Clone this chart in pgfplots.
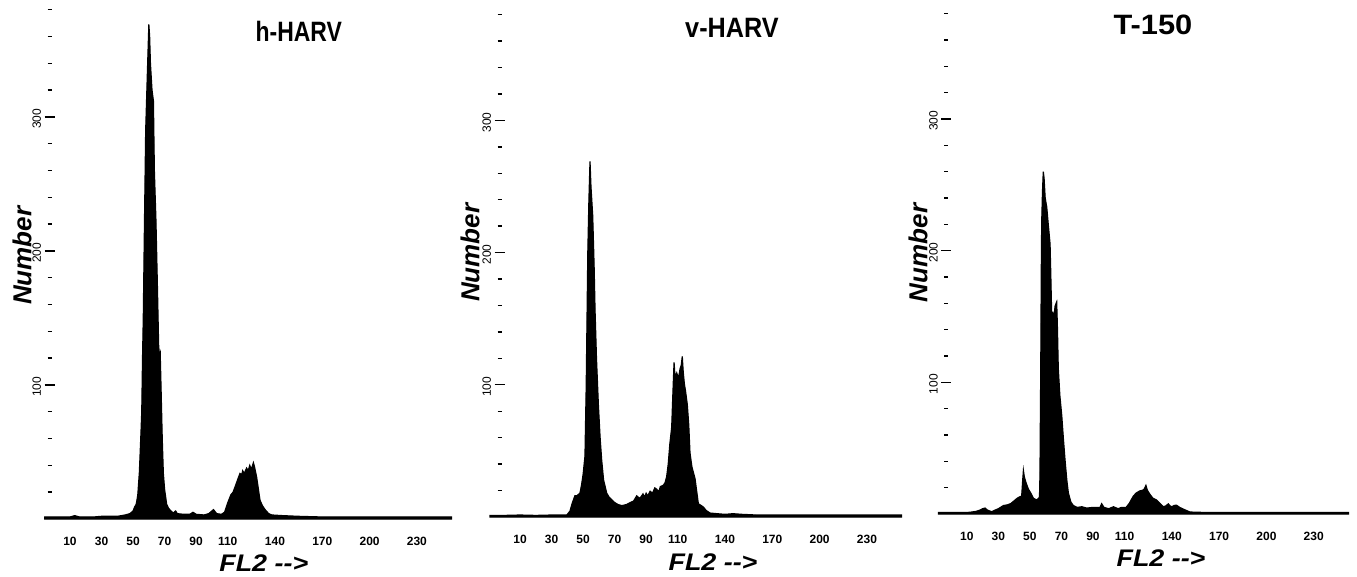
\documentclass[border=0pt]{standalone}
\usepackage{fontspec}
\setmainfont{Liberation Sans}
\usepackage{graphicx}
\usepackage{pgfplots}
\pgfplotsset{compat=1.18}

% DNA histograms (counts per FL2 channel)
\pgfplotstableread{
x y
-6 1.5
0 1.5
10 1.5
13 2.5
16 1.5
25 1.5
30 2
40 2
45 3
48 4
50 6
51 9
52 11
53 18
54 35
55 64
55.5 80
56 120
56.5 152
57 200
58 290
59 330
60 369
60.5 360
61 340
62 320
62.9 312
63.5 260
64.5 223
65.5 170
66.2 130
66.7 122
67.2 124
67.7 100
68.5 60
69.2 34
70 22
71.3 11
72.5 8
74 6
75.5 4.5
77 6
78 4
82 3.5
86 3.5
88 5
90 3.5
95 3
98 4
101 7
103 4
106 3.5
108 5
110 12
112 18
113.4 20
115 25
116.5 30
117.8 34
118.9 33
119.5 36
120.5 34
122 38
123 36
124 40
125 37
126.3 42
127 39
128.4 31
129.5 22
130.5 14
132 10
133.7 7
136 4
138 3
145 2.5
155 2
170 1.5
200 1.5
230 1.5
252 1.5
}\hharv

\pgfplotstableread{
x y
-9 1.2
0 1.2
10 1.5
20 1.2
30 1.5
35 1.5
39.7 1.5
41.7 4.5
43 10
44.8 16
46 16
47 17
48 18
49 24
50 32
51.2 46
52 100
53 200
53.7 240
54.4 269
55 250
56.1 228
57 190
57.6 156
58.5 120
59.7 85
60.8 60
61.8 43
63 28
65 18
66.5 15
68.2 13
70 11
72 9.5
74.5 8.6
76 9
77.7 9.5
80 11
82 12
84 16
86 14
88 17.5
89 15
90 18
91 16
92.5 19.5
94 18
95.5 22
96.7 21
98 19
99 23
100.9 24
102 26
103 30.5
104 40
105 55
106.2 68
107 95
107.7 117
108.3 106
109.4 109
110.5 105
111.5 112
112.3 115
112.9 121.5
113.5 110
114.2 101
115 95
116.1 85
117 70
117.8 48.5
119 38
121 29
122 20
123.1 10
124.5 9
126.3 7.5
128 5
130.5 3
135 2.5
140 2
145 2.5
151 2
160 1.5
252 1.5
}\vharv

\pgfplotstableread{
x y
-8 1.2
0 1.2
10 1.2
12 1.3
16 2
18.4 3
20 4
21.6 4.5
23 3
25.8 1.7
28 3
30 4
33.2 6.4
36 7
38 8
40.6 10.6
42 12
43.5 13
44.8 13.6
45.4 25
45.9 33
46.5 28
47.5 24
49 19
50.5 16
52.2 12
54.3 10.6
55.6 12
56.1 13
56.4 30
56.7 80
56.9 111
57.2 180
57.5 222
58 245
58.5 260
59 255
59.7 240
60.7 233
61.5 222
62.8 205
63.3 180
63.8 152
64.5 153
65.3 150
66 158
67 161
67.5 140
68 111
69 90
70.2 75
71.2 58
72.3 41
73.4 26
74.4 16
76 9
77.6 6.4
80 5
83 5.5
86 4.5
90 5
94.5 5
95.5 7.8
97 5
100 4
103 5.5
106 4
108 5
111 5
113 8
115.6 13.6
117.5 16
119.8 17.6
121.5 18
122.5 19
123.6 21.7
124.5 18
126.2 14.8
128 12
130.4 10.6
132.5 8
134.6 5.6
136 6
137.8 7.7
139 6
140 5.5
141.5 6.5
143 6.7
145 5
147.3 3.7
151.5 1.5
160 1.2
252 1.2
}\tonefifty

\pgfplotsset{
  flowhist/.style={
    scale only axis, width=402.1pt,
    xmin=-3, xmax=252, ymin=0, ymax=385,
    clip=false, anchor=south west,
    axis line style={draw=none},
    xtick={10,30,50,70,90,110,140,170,200,230},
    xticklabels={10,30,50,70,90,110,140,170,200,230},
    xtick style={draw=none},
    xtick pos=left, ytick pos=left,
    xticklabel style={font=\bfseries\fontsize{12}{12}\selectfont, yshift=-10pt},
    ytick={100,200,300}, yticklabels={100,200,300},
    minor ytick={20,40,60,80,120,140,160,180,220,240,260,280,320,340,360,380},
    tick align=center,
    major tick length=10pt, minor tick length=4pt,
    ytick style={black, line width=1.4pt},
    yticklabel style={rotate=90, anchor=south, font=\fontsize{12}{12}\selectfont, xshift=-2pt},
    ylabel={Number},
    ylabel style={anchor=center, font=\bfseries\itshape\fontsize{26}{26}\selectfont},
    xlabel={\scalebox{1.12}[1]{FL2 -{}->}},
    xlabel style={anchor=center, font=\bfseries\itshape\fontsize{24}{24}\selectfont},
    title style={anchor=center, font=\bfseries\fontsize{28}{28}\selectfont},
  },
  hist/.style={black, fill=black, line width=1.2pt},
}

\begin{document}
\begin{tikzpicture}
\useasboundingbox (0pt,0pt) rectangle (1357pt,576pt);

\begin{axis}[flowhist, at={(49.5pt,57pt)}, height=516pt,
  title={\scalebox{0.82}[1]{h-HARV}},
  title style={at={(axis description cs:0.62,0.933)}},
  ylabel style={at={(axis description cs:-0.068,0.51)}},
  xlabel style={at={(axis description cs:0.533,-0.085)}}]
\addplot[hist] table {\hharv} \closedcycle;
\end{axis}

\begin{axis}[flowhist, at={(499.5pt,59pt)}, height=509pt,
  title={\scalebox{0.9}[1]{v-HARV}},
  title style={at={(axis description cs:0.578,0.949)}},
  ylabel style={at={(axis description cs:-0.073,0.519)}},
  xlabel style={at={(axis description cs:0.531,-0.089)}}]
\addplot[hist] table {\vharv} \closedcycle;
\end{axis}

\begin{axis}[flowhist, at={(946.3pt,62pt)}, height=507pt,
  title={\scalebox{1.1}[1]{T-150}},
  title style={at={(axis description cs:0.514,0.953)}},
  ylabel style={at={(axis description cs:-0.070,0.515)}},
  xlabel style={at={(axis description cs:0.534,-0.087)}}]
\addplot[hist] table {\tonefifty} \closedcycle;
\end{axis}
\end{tikzpicture}
\end{document}
